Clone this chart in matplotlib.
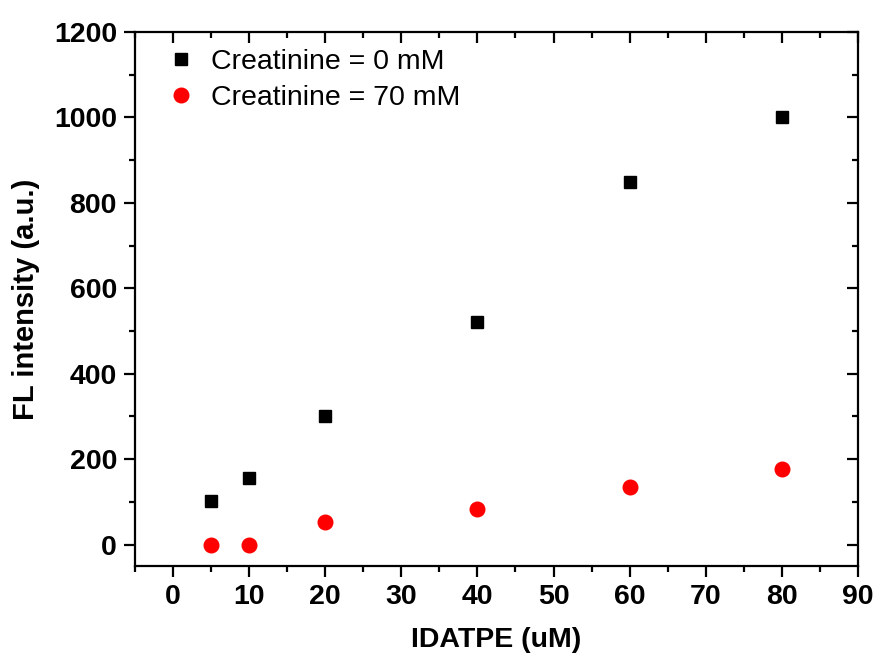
import matplotlib
matplotlib.use("Agg")
import matplotlib.pyplot as plt
from matplotlib.ticker import MultipleLocator
from matplotlib.lines import TICKDOWN, TICKLEFT

plt.rcParams['font.family'] = ['Liberation Sans', 'DejaVu Sans']

x = [5, 10, 20, 40, 60, 80]
y0 = [102, 155, 301, 521, 849, 1000]
y70 = [0, 0, 53, 83, 135, 177]
labels = ["Creatinine = 0 mM", "Creatinine = 70 mM"]

fig = plt.figure(figsize=(8.79, 6.61), dpi=100)
ax = fig.add_axes([0.1536, 0.1437, 0.976 - 0.1536, 0.9516 - 0.1437])

ax.plot(x, y0, linestyle='none', marker='s', color='black', markersize=9, label=labels[0])
ax.plot(x, y70, linestyle='none', marker='o', color='red', markersize=10.5, label=labels[1])

ax.set_xlim(-5, 90)
ax.set_ylim(-50, 1200)
ax.xaxis.set_major_locator(MultipleLocator(10))
ax.xaxis.set_minor_locator(MultipleLocator(5))
ax.yaxis.set_major_locator(MultipleLocator(200))
ax.yaxis.set_minor_locator(MultipleLocator(100))

for s in ax.spines.values():
    s.set_linewidth(1.6)

ax.tick_params(axis='both', which='major', length=8, width=1.6, labelsize=20.5, direction='out', pad=5)
ax.tick_params(axis='both', which='minor', length=4.5, width=1.6, direction='out')
ax.tick_params(top=True, right=True, which='both')
for lab in ax.get_xticklabels() + ax.get_yticklabels():
    lab.set_fontweight('bold')

for t in ax.xaxis.get_major_ticks() + ax.xaxis.get_minor_ticks():
    t.tick2line.set_marker(TICKDOWN)
for t in ax.yaxis.get_major_ticks() + ax.yaxis.get_minor_ticks():
    t.tick2line.set_marker(TICKLEFT)

ax.set_xlabel("IDATPE (uM)", fontsize=20.5, fontweight='bold', labelpad=12)
ax.set_ylabel("FL intensity (a.u.)", fontsize=21, fontweight='bold', labelpad=10)

leg = ax.legend(loc='upper left', frameon=False, fontsize=20.5, handletextpad=0.45,
                borderaxespad=0.2, labelspacing=0.35, handlelength=1.2,
                bbox_to_anchor=(0.017, 1.0))

fig.savefig("out.png", dpi=100)
